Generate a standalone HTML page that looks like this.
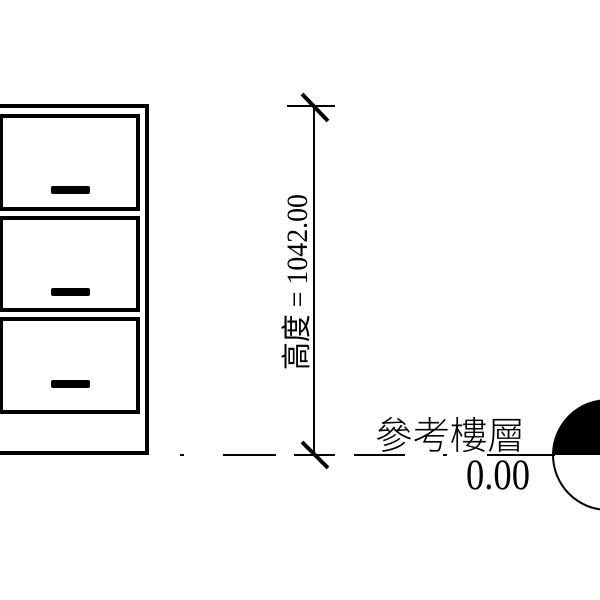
<!DOCTYPE html>
<html><head><meta charset="utf-8"><style>
html,body{margin:0;padding:0;background:#fff;width:600px;height:600px;overflow:hidden}
</style></head><body>
<svg width="600" height="600" viewBox="0 0 600 600" xmlns="http://www.w3.org/2000/svg">
<rect x="-10" y="106" width="157" height="347" fill="none" stroke="#000" stroke-width="4"/>
<rect x="1" y="116" width="137" height="93" fill="none" stroke="#000" stroke-width="4"/>
<rect x="1" y="218" width="137" height="92" fill="none" stroke="#000" stroke-width="4"/>
<rect x="1" y="319" width="137" height="93" fill="none" stroke="#000" stroke-width="4"/>
<rect x="51" y="186" width="39" height="8" rx="2" fill="#000"/>
<rect x="51" y="288" width="39" height="8" rx="2" fill="#000"/>
<rect x="51" y="380" width="39" height="8" rx="2" fill="#000"/>
<line x1="314" y1="106" x2="314" y2="455" stroke="#000" stroke-width="2"/>
<line x1="287" y1="106" x2="335" y2="106" stroke="#000" stroke-width="2"/>
<line x1="302" y1="94" x2="328" y2="121" stroke="#000" stroke-width="4"/>
<line x1="302" y1="442" x2="328" y2="468" stroke="#000" stroke-width="4"/>
<g stroke="#000" stroke-width="2">
<line x1="180" y1="455" x2="184" y2="455"/>
<line x1="223" y1="455" x2="276" y2="455"/>
<line x1="294" y1="455" x2="335" y2="455"/>
<line x1="354" y1="455" x2="405" y2="455"/>
<line x1="443" y1="455" x2="447" y2="455"/>
<line x1="487" y1="455" x2="555" y2="455"/>
</g>
<path d="M553,455 A55,55 0 0 1 663,455 Z" fill="#000"/>
<circle cx="608" cy="455" r="55" fill="none" stroke="#000" stroke-width="2"/>
<text transform="translate(307,370) rotate(-90)" font-family="Liberation Serif, Noto Sans CJK TC, serif" font-size="30" fill="#000" textLength="176" lengthAdjust="spacingAndGlyphs">高度 = 1042.00</text>
<text x="375" y="449" font-family="Liberation Sans, Noto Sans CJK TC, sans-serif" font-weight="300" font-size="38" fill="#000" textLength="150" lengthAdjust="spacingAndGlyphs">參考樓層</text>
<text x="466" y="489" font-family="Liberation Serif, serif" font-size="43" fill="#000" textLength="64" lengthAdjust="spacingAndGlyphs">0.00</text>
</svg>
</body></html>
